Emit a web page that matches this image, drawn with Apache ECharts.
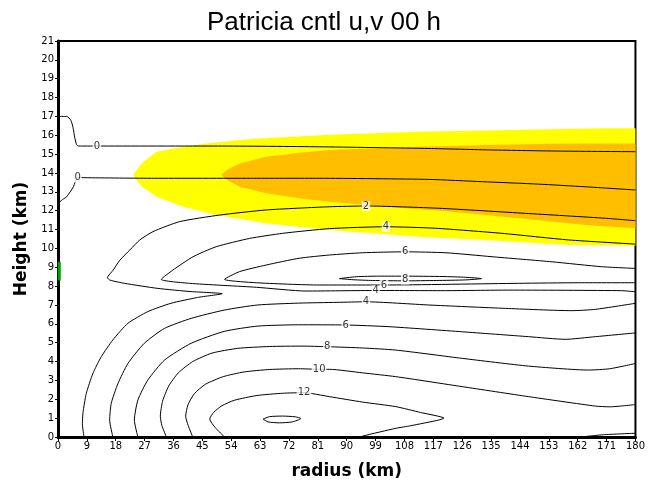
<!DOCTYPE html>
<html>
<head>
    <meta http-equiv=Content-Type content="text/html; charset=utf-8">
    <title>Patricia cntl u,v 00 h</title>
    <script type="text/javascript" src="https://cdn.jsdelivr.net/npm/echarts@6/dist/echarts.min.js"></script>
    <style>
        html, body { margin: 0; padding: 0; background: #fff; }
        #chartmain { width: 648px; height: 487px; }
    </style>
</head>
<body>
<div id="chartmain"></div>
<script type="text/javascript">
    // 刻度
    var radiusRange = [0, 180, 9];
    var heightRange = [0, 21, 1];

    // 填色区 (黄 / 橙)
    var yellowArea = [[23.4,13.89],[26,14.5],[30.7,15.13],[39,15.39],[46.2,15.57],[60,15.8],[84.6,16.03],[112.5,16.19],[148.8,16.31],[169.5,16.37],[180,16.37],
        [180,10.14],[159.2,10.18],[133.3,10.45],[112.5,10.62],[84.6,10.98],[64.9,11.33],[49.3,11.77],[39,12.21],[30.7,12.74],[26,13.3]];
    var orangeArea = [[50.9,13.89],[53,14.2],[56.6,14.51],[64.9,14.86],[75.2,15.08],[84.6,15.22],[112.5,15.39],[133.3,15.48],[159.2,15.57],[180,15.57],
        [180,11.07],[164.3,11.24],[143.6,11.6],[122.9,11.95],[102.2,12.21],[84.6,12.48],[75.2,12.66],[64.9,12.92],[56.6,13.27],[53,13.6]];

    // 等值线
    var c0Top = [[0,17],[2.7,17],[4,16.8],[4.7,16.4],[5.2,15.9],[5.8,15.5],[6.5,15.43],[12,15.43],[50,15.43],[81.4,15.39],[115.6,15.3],[135.3,15.22],[157,15.16],[180,15.13]];
    var c0Low = [[0,12.39],[1.5,12.6],[2.7,12.74],[4.8,13.27],[6.1,13.77],[8.4,13.75],[30,13.72],[60,13.72],[81.4,13.72],[115.6,13.66],[132.2,13.54],[149.8,13.41],[164.3,13.27],[180,13.1]];
    var c2 = [[8.1,0],[7.6,0.7],[7.8,1.3],[8.8,2.3],[10.9,3.38],[13.5,4.26],[17.1,5.15],[21.8,6.03],[28,6.65],[35.2,7.09],[43.5,7.4],[51.2,7.6],
        [41.5,7.71],[31.1,7.88],[20.7,8.15],[16.2,8.32],[15.4,8.45],[17.2,8.85],[19.3,9.38],[22.4,9.92],[25.5,10.45],[29.6,10.89],
        [37.9,11.42],[50.4,11.77],[64.9,12.04],[84.6,12.21],[96,12.25],[118.7,12.13],[145.7,11.86],[170.6,11.6],[180,11.47]];
    var c4Upper = [[180,7.7],[175.7,7.76],[140.5,7.79],[120,7.76],[99,7.77],[77.3,7.74],[61.8,7.94],[41,8.15],[32.2,8.36],
        [35.8,8.85],[42.1,9.56],[49.3,10.09],[59.7,10.53],[70,10.8],[84.6,11.05],[102.2,11.15],[117.7,11.07],[138.4,10.8],[159.2,10.45],[180,10.23]];
    var c6Upper = [[180,8.18],[162.3,8.18],[143.6,8.15],[101.6,8.06],[81.4,8.06],[61.8,8.18],[51.9,8.36],
        [56.6,8.77],[64.9,9.12],[75.2,9.48],[84.6,9.65],[94.9,9.77],[108.2,9.82],[120.9,9.77],[135.3,9.56],[154,9.29],[169.5,9.03],[180,8.94]];
    var c8Closed = [[87.7,8.4],[93,8.5],[100,8.53],[108,8.53],[120,8.51],[127,8.47],[132,8.4],[127,8.33],[118,8.3],[108,8.28],[98,8.3],[92,8.34],[87.7,8.4]];
    var c4Lower = [[17.1,0],[16.1,0.9],[16.6,1.79],[18.7,2.84],[21.8,3.9],[26.9,4.97],[33.2,5.76],[41.5,6.29],[51.8,6.73],[62.2,7.0],[75,7.1],[87,7.14],[96,7.17],[115.6,7.0],[139.5,6.82],[160.2,6.7],[167.5,6.77],[180,7.09]];
    var c6Lower = [[24.9,0],[23.8,0.9],[24.9,1.96],[28,3.02],[33.2,4.08],[41.5,4.97],[51.8,5.6],[62.2,5.88],[75,5.95],[89.7,5.94],[103.2,5.85],[126,5.58],[146.7,5.32],[158.1,5.18],[167.5,5.32],[180,5.52]];
    var c8Lower = [[33.8,0],[32.4,0.6],[31.9,1.1],[32.6,1.9],[34.5,2.7],[37.5,3.4],[42,4.0],[48,4.45],[56,4.7],[66,4.8],[76,4.82],[83.9,4.79],[95,4.72],[105.3,4.61],[126,4.17],[146.7,3.76],[165.4,3.55],[172,3.62],[180,3.9]];
    var c10 = [[42,0],[40.6,0.6],[39.8,1.1],[40.5,1.7],[42.5,2.3],[46,2.8],[51.5,3.2],[58,3.45],[66,3.58],[75,3.62],[81.4,3.59],[84.6,3.59],[95,3.4],[105.3,3.2],[126,2.67],[146.7,2.14],[167.5,1.64],[172,1.6],[180,1.72]];
    var c12 = [[51.9,0],[49,0.5],[47.3,0.95],[48.5,1.3],[51,1.65],[55,1.95],[62,2.2],[70,2.32],[76.7,2.35],[84.6,2.14],[95,1.85],[105.3,1.61],[113,1.3],[120.3,1.0],[118.7,0.9],[110,0.6],[105.3,0.46],[95,0.05],[94.5,0]];
    var c14 = [[63.9,0.95],[66,1.08],[70,1.11],[74,1.07],[75.7,0.98],[73,0.8],[69,0.75],[65.5,0.8],[63.9,0.95]];
    var cCorner = [[163,0],[170,0.12],[180,0.2]];
    var greenMark = [[0.4,8.3],[0.4,9.3]];

    // 等值线标注 [x, y, 文本]
    var contourLabels = [[12.1,15.43,'0'],[6.1,13.77,'0'],[96,12.25,'2'],[102.2,11.15,'4'],[108.2,9.82,'6'],[108.2,8.35,'8'],
        [101.6,8.06,'6'],[99,7.77,'4'],[96,7.17,'4'],[89.7,5.94,'6'],[83.9,4.79,'8'],[81.4,3.59,'10'],[76.7,2.35,'12']];

    var myChart = echarts.init(document.getElementById('chartmain'));

    function fillArea(pts, color) {
        return {
            type: 'custom',
            silent: true,
            z: 1,
            data: [pts[0]],
            renderItem: function (params, api) {
                return {
                    type: 'polygon',
                    shape: {points: pts.map(function (p) { return api.coord(p); })},
                    style: {fill: color, stroke: null}
                };
            }
        };
    }

    function contour(pts, color, width) {
        return {
            type: 'line',
            data: pts,
            showSymbol: false,
            smooth: 0.2,
            silent: true,
            z: 3,
            lineStyle: {color: color || '#000', width: width || 1}
        };
    }

    var lines = [c0Top, c0Low, c2, c4Upper, c6Upper, c8Closed, c4Lower, c6Lower, c8Lower, c10, c12, c14, cCorner];
    var series = [fillArea(yellowArea, '#ffff00'), fillArea(orangeArea, '#ffbf00')];
    for (var i = 0; i < lines.length; i++) {
        series.push(contour(lines[i]));
    }
    var g = contour(greenMark, '#00a000', 3);
    g.smooth = false;
    series.push(g);
    series.push({
        type: 'scatter',
        z: 5,
        silent: true,
        symbolSize: 1,
        itemStyle: {color: 'rgba(0,0,0,0)'},
        data: contourLabels.map(function (d) { return {value: [d[0], d[1]], name: d[2]}; }),
        label: {
            show: true,
            position: 'inside',
            formatter: '{b}',
            color: '#000',
            fontSize: 10,
            fontFamily: 'DejaVu Sans',
            backgroundColor: '#fff',
            padding: [0, 1]
        }
    });

    var option = {
        animation: false,
        title: {
            text: 'Patricia cntl u,v 00 h',
            left: 'center',
            top: 5,
            textStyle: {fontSize: 26, fontWeight: 'normal', color: '#000', fontFamily: 'Liberation Sans'}
        },
        grid: {left: 58, right: 11, top: 41, bottom: 50, show: true, borderColor: '#000', borderWidth: 2, backgroundColor: 'transparent'},
        xAxis: {
            type: 'value',
            min: radiusRange[0], max: radiusRange[1], interval: radiusRange[2],
            name: 'radius (km)',
            nameLocation: 'middle',
            nameGap: 26,
            nameTextStyle: {fontSize: 17, fontWeight: 'bold', color: '#000', fontFamily: 'DejaVu Sans'},
            axisLine: {show: true, lineStyle: {color: '#000', width: 3}},
            axisTick: {show: true, length: 4, lineStyle: {color: '#000'}},
            axisLabel: {fontSize: 10, color: '#000', margin: 4, fontFamily: 'DejaVu Sans'},
            splitLine: {show: false}
        },
        yAxis: {
            type: 'value',
            min: heightRange[0], max: heightRange[1], interval: heightRange[2],
            name: 'Height (km)',
            nameLocation: 'middle',
            nameGap: 27,
            nameTextStyle: {fontSize: 17, fontWeight: 'bold', color: '#000', fontFamily: 'DejaVu Sans'},
            axisLine: {show: true, lineStyle: {color: '#000', width: 3}},
            axisTick: {show: true, length: 3, lineStyle: {color: '#000'}},
            axisLabel: {fontSize: 10, color: '#000', margin: 4, fontFamily: 'DejaVu Sans'},
            splitLine: {show: false}
        },
        series: series
    };
    myChart.setOption(option);
</script>
</body>
</html>
